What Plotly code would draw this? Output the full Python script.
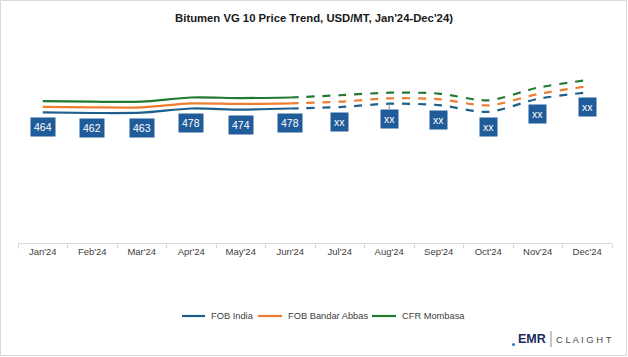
import plotly.graph_objects as go

months = ["Jan'24", "Feb'24", "Mar'24", "Apr'24", "May'24", "Jun'24",
          "Jul'24", "Aug'24", "Sep'24", "Oct'24", "Nov'24", "Dec'24"]
fob_india = [464, 462, 463, 478, 474, 478, 483, 495, 490, 466, 512, 535]
fob_bandar_abbas = [484, 482, 482, 496, 494, 496, 502, 514, 511, 489, 529, 557]
cfr_mombasa = [504, 502, 502, 517, 515, 517, 525, 534, 531, 507, 552, 579]
label_texts = ["464", "462", "463", "478", "474", "478", "xx", "xx", "xx", "xx", "xx", "xx"]
n_actual = 6  # Jan..Jun solid, Jun..Dec dashed (forecast)

series_names = ["FOB India", "FOB Bandar Abbas", "CFR Mombasa"]
series_values = [fob_india, fob_bandar_abbas, cfr_mombasa]
series_colors = ["#1F5F8B", "#ED7D31", "#217A32"]

W, H = 628, 357
ML, MR, MT, MB = 18, 16, 46, 114
PW, PH = W - ML - MR, H - MT - MB
FONT = "Liberation Sans, Arial, sans-serif"


def px_x(px):
    return (px - ML) / PW


def px_y(py):
    return (H - MB - py) / PH


fig = go.Figure()
for name, vals, color in zip(series_names, series_values, series_colors):
    fig.add_trace(go.Scatter(
        x=months[:n_actual], y=vals[:n_actual], mode="lines", name=name,
        line=dict(color=color, width=2.2, shape="spline", smoothing=0.8),
        showlegend=False, hoverinfo="skip"))
for name, vals, color in zip(series_names, series_values, series_colors):
    fig.add_trace(go.Scatter(
        x=months[n_actual - 1:], y=vals[n_actual - 1:], mode="lines", name=name + " (forecast)",
        line=dict(color=color, width=2.2, dash="8px,8px", shape="spline", smoothing=0.8),
        showlegend=False, hoverinfo="skip"))

annotations = []
for m, v, t in zip(months, fob_india, label_texts):
    leader = (m == "Aug'24")
    annotations.append(dict(
        x=m, y=v, xref="x", yref="y", text=t,
        showarrow=True, ax=0, ay=15, axref="pixel", ayref="pixel",
        arrowhead=0, arrowwidth=1,
        arrowcolor="#8C8C8C" if leader else "rgba(0,0,0,0)",
        bgcolor="#1F5C99", borderpad=3,
        font=dict(family=FONT, size=10.5, color="white"),
    ))

shapes = [
    dict(type="rect", xref="paper", yref="paper",
         x0=px_x(0.5), x1=px_x(626.5), y0=px_y(355.5), y1=px_y(0.5),
         line=dict(color="#D9D9D9", width=1), layer="below"),
]

# manual legend (short line samples like the reference)
legend_line_x = [(182, 205), (258, 282), (372, 396)]
legend_y = 316
for (x0, x1), name, color in zip(legend_line_x, series_names, series_colors):
    shapes.append(dict(type="line", xref="paper", yref="paper",
                       x0=px_x(x0), x1=px_x(x1), y0=px_y(legend_y), y1=px_y(legend_y),
                       line=dict(color=color, width=2.2)))
    annotations.append(dict(x=px_x(x1 + 4), y=px_y(legend_y), xref="paper", yref="paper",
                            xanchor="left", yanchor="middle", text=name, showarrow=False,
                            font=dict(family=FONT, size=9.3, color="#404040")))

# logo
annotations.append(dict(x=px_x(548), y=px_y(339), xref="paper", yref="paper",
                        xanchor="right", yanchor="middle",
                        text="<b>EMR</b>", showarrow=False,
                        font=dict(family=FONT, size=12.5, color="#1B2A5C")))
annotations.append(dict(x=px_x(554), y=px_y(339), xref="paper", yref="paper",
                        xanchor="left", yanchor="middle",
                        text="C L A I G H T", showarrow=False,
                        font=dict(family=FONT, size=9.5, color="#4A4A4A")))
shapes.append(dict(type="line", xref="paper", yref="paper",
                   x0=px_x(551), x1=px_x(551), y0=px_y(331), y1=px_y(347),
                   line=dict(color="#8C8C8C", width=1)))
shapes.append(dict(type="circle", xref="paper", yref="paper",
                   x0=px_x(512), x1=px_x(515), y0=px_y(346), y1=px_y(343),
                   fillcolor="#2E75B6", line=dict(width=0)))

fig.update_layout(
    width=W, height=H,
    margin=dict(l=ML, r=MR, t=MT, b=MB),
    paper_bgcolor="white", plot_bgcolor="white",
    title=dict(text="<b>Bitumen VG 10 Price Trend, USD/MT, Jan'24-Dec'24)</b>",
               x=0.5, xref="container", xanchor="center",
               y=1 - 18 / H, yref="container", yanchor="middle",
               font=dict(family=FONT, size=11.3, color="#1A1A1A")),
    xaxis=dict(type="category", categoryorder="array", categoryarray=months,
               range=[-0.5, 11.5], showline=True, linecolor="#D9D9D9", linewidth=1,
               ticks="outside", tickson="boundaries", ticklen=4, tickcolor="#D9D9D9",
               showgrid=False, zeroline=False,
               tickfont=dict(family=FONT, size=9.5, color="#404040")),
    yaxis=dict(range=[0, 700], visible=False, showgrid=False, zeroline=False),
    annotations=annotations,
    shapes=shapes,
    showlegend=False,
)

fig.write_html("out.html",
               config={"displayModeBar": False},
               post_script="document.body.style.margin='0';document.body.style.overflow='hidden';")
